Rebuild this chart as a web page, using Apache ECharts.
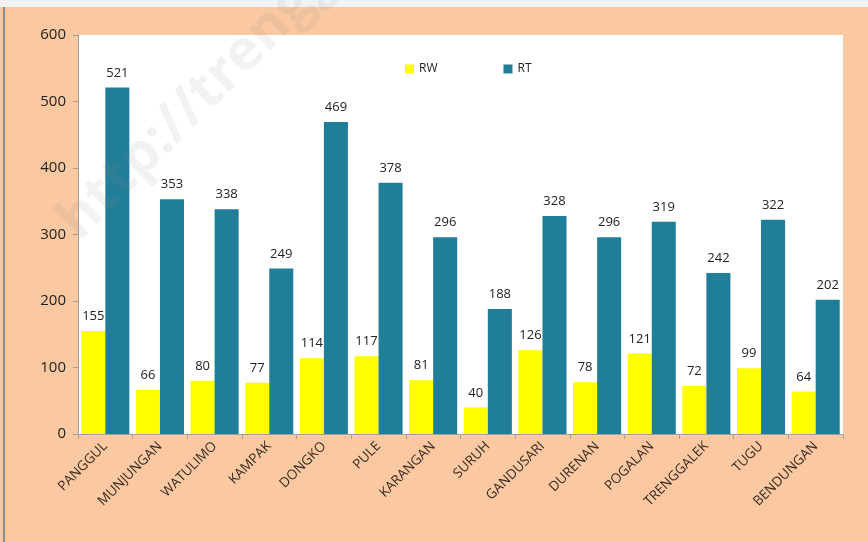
<!DOCTYPE html>
<html>
<head>
<meta charset="utf-8">
<script src="https://cdn.jsdelivr.net/npm/echarts@6/dist/echarts.min.js"></script>
<style>
  body { margin: 0; }
  #main { width: 868px; height: 542px; }
</style>
</head>
<body>
<div id="main"></div>
<script>
// kecamatan names and counts
var kecamatan = ['PANGGUL', 'MUNJUNGAN', 'WATULIMO', 'KAMPAK', 'DONGKO', 'PULE', 'KARANGAN',
  'SURUH', 'GANDUSARI', 'DURENAN', 'POGALAN', 'TRENGGALEK', 'TUGU', 'BENDUNGAN'];
var rw = [155, 66, 80, 77, 114, 117, 81, 40, 126, 78, 121, 72, 99, 64];
var rt = [521, 353, 338, 249, 469, 378, 296, 188, 328, 296, 319, 242, 322, 202];

var chart = echarts.init(document.getElementById('main'));

var labelStyle = {
    show: true,
    position: 'top',
    distance: 8,
    color: '#222',
    fontSize: 13,
    fontFamily: 'Open Sans'
};

var option = {
    backgroundColor: '#fac8a1',
    textStyle: { fontFamily: 'Open Sans' },
    graphic: [
        { type: 'rect', x: 0, y: 0, shape: { width: 868, height: 7 }, style: { fill: '#f3f3f3' } },
        { type: 'rect', x: 3, y: 7, shape: { width: 2, height: 535 }, style: { fill: '#8a8a8a' } },
        {
            type: 'text', x: 88, y: 250, rotation: Math.PI / 4, z: 100,
            style: {
                text: 'http://trenggalek', fontSize: 56, fontWeight: 'bold',
                fontFamily: 'Open Sans', fill: 'rgba(140,140,140,0.11)',
                verticalAlign: 'bottom'
            }
        }
    ],
    legend: {
        left: 400,
        top: 58,
        itemWidth: 9,
        itemHeight: 9,
        itemGap: 66,
        icon: 'rect',
        textStyle: { fontSize: 12, color: '#222' },
        data: ['RW', 'RT']
    },
    grid: {
        left: 78,
        right: 25,
        top: 35,
        bottom: 108,
        show: true,
        backgroundColor: '#ffffff',
        borderWidth: 0
    },
    xAxis: {
        type: 'category',
        data: kecamatan,
        axisLine: { lineStyle: { color: '#a0a0a0' } },
        axisTick: { show: true, length: 5, lineStyle: { color: '#a0a0a0' } },
        axisLabel: {
            rotate: 45,
            interval: 0,
            color: '#3a2a22',
            fontSize: 13.5,
            margin: 10
        }
    },
    yAxis: {
        type: 'value',
        min: 0,
        max: 600,
        interval: 100,
        splitLine: { show: false },
        axisLine: { show: true, lineStyle: { color: '#a0a0a0' } },
        axisTick: { show: true, length: 5, lineStyle: { color: '#a0a0a0' } },
        axisLabel: { color: '#222', fontSize: 15, margin: 12 }
    },
    series: [
        {
            name: 'RW',
            type: 'bar',
            data: rw,
            barGap: '0%',
            barCategoryGap: '12%',
            itemStyle: { color: '#ffff00' },
            label: labelStyle
        },
        {
            name: 'RT',
            type: 'bar',
            data: rt,
            itemStyle: { color: '#217e99' },
            label: labelStyle
        }
    ]
};

chart.setOption(option);
</script>
</body>
</html>
